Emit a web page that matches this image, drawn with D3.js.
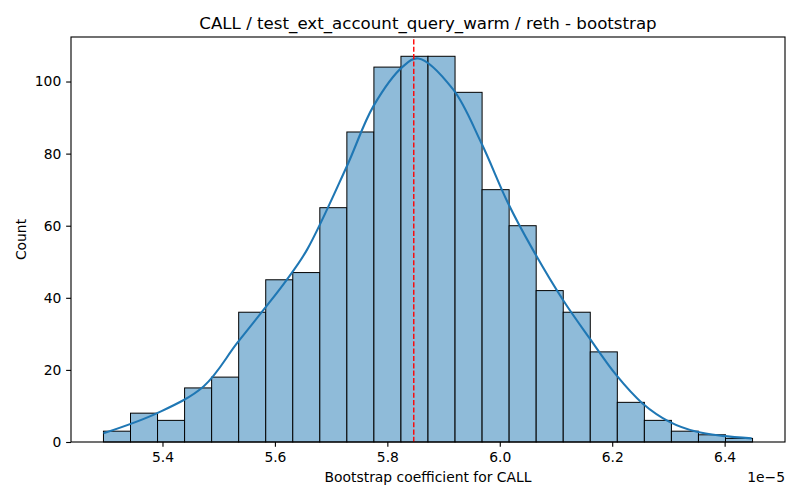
<!DOCTYPE html>
<html>
<head>
<meta charset="utf-8">
<script src="https://cdn.jsdelivr.net/npm/d3@7"></script>
<style>
  body { margin: 0; background: #fff; }
  text { font-family: "DejaVu Sans", sans-serif; fill: #000; }
</style>
</head>
<body>
<script>
// histogram of bootstrap coefficients (values in units of 1e-5)
var binStart = 5.295;
var binWidth = 0.04811;
var counts = [3, 8, 6, 15, 18, 36, 45, 47, 65, 86, 104, 107, 107, 97, 70, 60, 42, 36, 25, 11, 6, 3, 2, 1];

// kde curve
var kdeX = [5.295, 5.3906, 5.473, 5.5326, 5.580, 5.621, 5.657, 5.728, 5.775, 5.828, 5.855, 5.917, 5.967, 6.0146, 6.059, 6.1125, 6.1596, 6.207, 6.254, 6.302, 6.349, 6.396, 6.448];
var kdeY = [2.4, 8.0, 15.4, 27.4, 36.7, 45, 53.3, 76.5, 93.1, 104.2, 106.4, 97.8, 83, 66.3, 53.3, 39.4, 28.8, 18.6, 10.7, 5.6, 2.9, 1.7, 1.0];

var meanValue = 5.847;
var xTicks = [5.4, 5.6, 5.8, 6.0, 6.2, 6.4];
var yTicks = [0, 20, 40, 60, 80, 100];

var width = 800, height = 500;
var margin = {left: 71, right: 15, top: 37, bottom: 58};
var pt = 100 / 72;

var svg = d3.select("body").append("svg")
    .attr("width", width)
    .attr("height", height);

var binEnd = binStart + binWidth * counts.length;
var pad = (binEnd - binStart) * 0.05;

var x = d3.scaleLinear()
    .domain([binStart - pad, binEnd + pad])
    .range([margin.left, width - margin.right]);

var y = d3.scaleLinear()
    .domain([0, d3.max(counts) * 1.05])
    .range([height - margin.bottom, margin.top]);

var bins = counts.map(function(c, i) {
    return {x0: binStart + i * binWidth, x1: binStart + (i + 1) * binWidth, count: c};
});

svg.append("g")
    .selectAll("rect")
    .data(bins)
    .enter()
    .append("rect")
    .attr("x", function(d) { return x(d.x0); })
    .attr("y", function(d) { return y(d.count); })
    .attr("width", function(d) { return x(d.x1) - x(d.x0); })
    .attr("height", function(d) { return y(0) - y(d.count); })
    .style("fill", "#8fbbd9")
    .style("stroke", "#000")
    .style("stroke-width", "1");

var kde = kdeX.map(function(v, i) { return [v, kdeY[i]]; });

svg.append("path")
    .datum(kde)
    .attr("d", d3.line()
        .x(function(d) { return x(d[0]); })
        .y(function(d) { return y(d[1]); })
        .curve(d3.curveCatmullRom))
    .style("fill", "none")
    .style("stroke", "#1f77b4")
    .style("stroke-width", 1.5 * pt);

svg.append("line")
    .attr("x1", x(meanValue))
    .attr("x2", x(meanValue))
    .attr("y1", y.range()[0])
    .attr("y2", y.range()[1])
    .style("stroke", "#ff0000")
    .style("stroke-width", pt)
    .style("stroke-dasharray", (3.7 * pt) + "," + (1.6 * pt));

// axes
var xAxis = svg.append("g")
    .attr("transform", "translate(0," + (height - margin.bottom) + ")")
    .call(d3.axisBottom(x).tickValues(xTicks).tickFormat(d3.format(".1f")).tickSizeOuter(0).tickSize(3.5 * pt).tickPadding(3.5 * pt));

var yAxis = svg.append("g")
    .attr("transform", "translate(" + margin.left + ",0)")
    .call(d3.axisLeft(y).tickValues(yTicks).tickSizeOuter(0).tickSize(3.5 * pt).tickPadding(3.5 * pt));

[xAxis, yAxis].forEach(function(a) {
    a.select(".domain").remove();
    a.selectAll("line").style("stroke", "#000").style("stroke-width", 0.8 * pt);
    a.selectAll("text").style("font-size", (10 * pt) + "px").style("font-family", "DejaVu Sans");
});

// frame
svg.append("rect")
    .attr("x", margin.left)
    .attr("y", margin.top)
    .attr("width", width - margin.left - margin.right)
    .attr("height", height - margin.top - margin.bottom)
    .style("fill", "none")
    .style("stroke", "#000")
    .style("stroke-width", 0.8 * pt);

svg.append("text")
    .attr("x", (margin.left + width - margin.right) / 2)
    .attr("y", 29)
    .attr("text-anchor", "middle")
    .style("font-size", (12 * pt) + "px")
    .text("CALL / test_ext_account_query_warm / reth - bootstrap");

svg.append("text")
    .attr("x", (margin.left + width - margin.right) / 2)
    .attr("y", 482)
    .attr("text-anchor", "middle")
    .style("font-size", (10 * pt) + "px")
    .text("Bootstrap coefficient for CALL");

svg.append("text")
    .attr("x", width - margin.right)
    .attr("y", 482)
    .attr("text-anchor", "end")
    .style("font-size", (10 * pt) + "px")
    .text("1e\u22125");

svg.append("text")
    .attr("transform", "translate(26," + ((margin.top + height - margin.bottom) / 2) + ") rotate(-90)")
    .attr("text-anchor", "middle")
    .style("font-size", (10 * pt) + "px")
    .text("Count");
</script>
</body>
</html>
